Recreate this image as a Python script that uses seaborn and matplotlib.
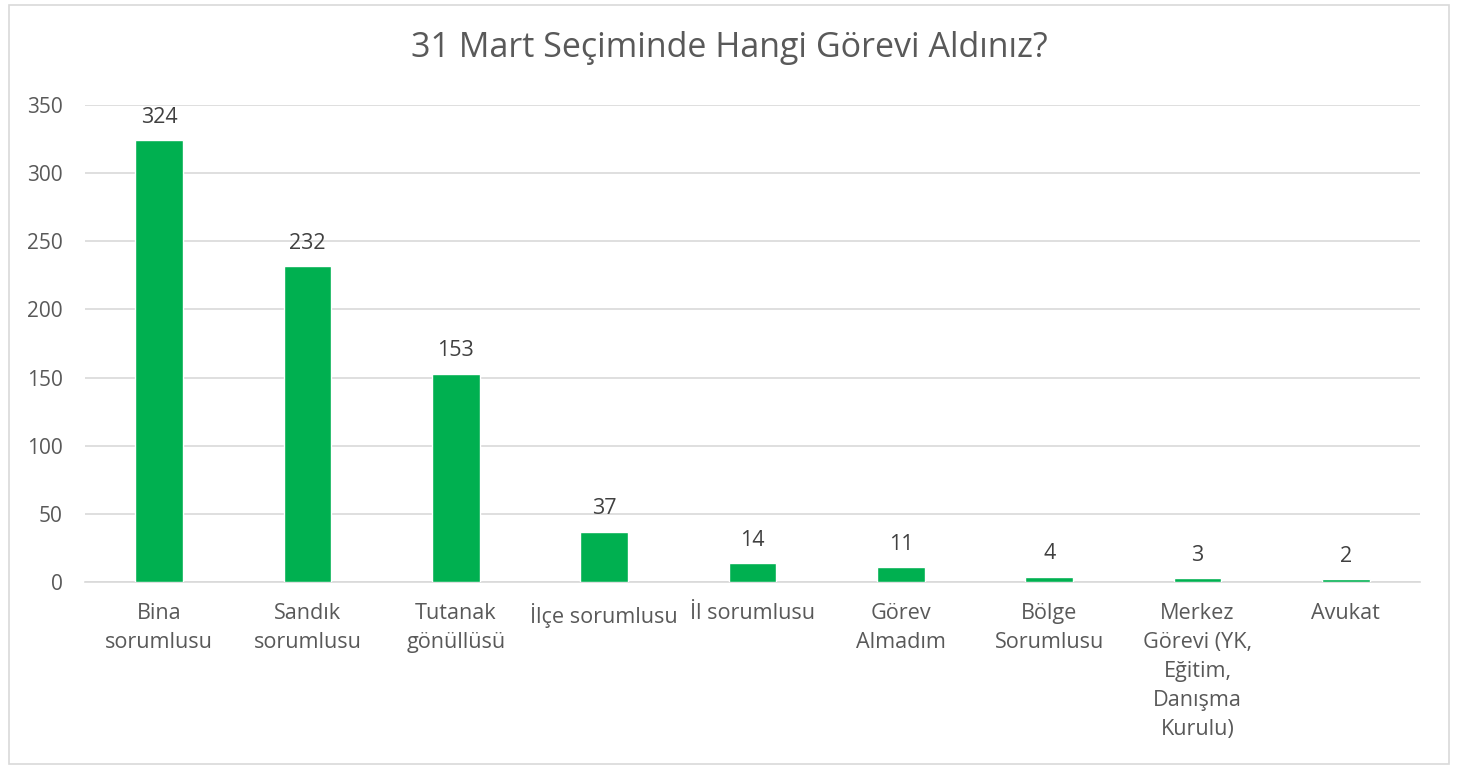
import matplotlib.pyplot as plt
import seaborn as sns
import pandas as pd
from matplotlib.patches import Rectangle

categories = ["Bina\nsorumlusu", "Sandık\nsorumlusu", "Tutanak\ngönüllüsü",
              "İlçe sorumlusu", "İl sorumlusu", "Görev\nAlmadım",
              "Bölge\nSorumlusu", "Merkez\nGörevi (YK,\nEğitim,\nDanışma\nKurulu)",
              "Avukat"]
counts = [324, 232, 153, 37, 14, 11, 4, 3, 2]
yticks = [0, 50, 100, 150, 200, 250, 300, 350]

df = pd.DataFrame({"Görev": categories, "Sayı": counts})

sns.set_style("white")
plt.rcParams['font.family'] = ['Open Sans', 'DejaVu Sans']

fig = plt.figure(figsize=(14.58, 7.69), dpi=100)
ax = fig.add_axes([0.0583, 0.243, 0.9157, 0.6205])

sns.barplot(data=df, x="Görev", y="Sayı", color="#00B050", width=0.32,
            saturation=1, ax=ax, zorder=3)

ax.set_ylim(0, 350)
ax.set_yticks(yticks)
ax.set_xlim(-0.5, len(categories) - 0.5)
ax.grid(axis="y", color="#d9d9d9", linewidth=1.2, zorder=0)
for s in ["top", "right", "left"]:
    ax.spines[s].set_visible(False)
ax.spines["bottom"].set_color("#d9d9d9")
ax.spines["bottom"].set_linewidth(1.2)
ax.tick_params(axis="both", length=0, labelsize=15, colors="#595959")
ax.tick_params(axis="x", pad=15, labelsize=15.6)
ax.tick_params(axis="y", pad=16)
ax.set_xlabel("")
ax.set_ylabel("")
for lbl in ax.get_xticklabels():
    lbl.set_verticalalignment("top")
    lbl.set_linespacing(1.5)

for i, v in enumerate(counts):
    ax.text(i, v + 9, str(v), ha="center", va="bottom", fontsize=15.5, color="#404040")

fig.text(0.5, 0.937, "31 Mart Seçiminde Hangi Görevi Aldınız?", ha="center",
         va="center", fontsize=24.5, color="#595959")

fig.patches.append(Rectangle((0.006, 0.006), 0.988, 0.988, transform=fig.transFigure,
                             fill=False, edgecolor="#d9d9d9", linewidth=1.2))

fig.savefig("out.png", dpi=100)
